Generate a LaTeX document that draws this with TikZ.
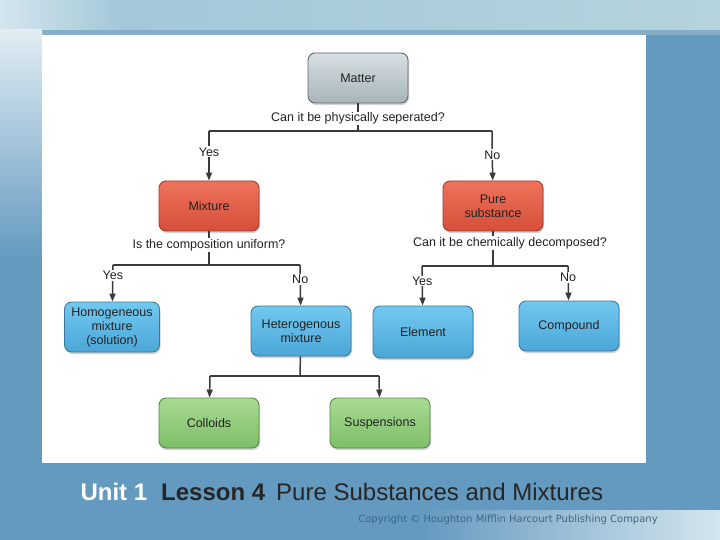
\documentclass[tikz,border=0pt]{standalone}
\usepackage{fontspec}
\setmainfont{Liberation Sans}
\newfontfamily\copyfont{DejaVu Sans}
\usepackage{tikz}
\usetikzlibrary{calc,positioning,arrows.meta,shadows}
\definecolor{SlideBlue}{HTML}{6499C0}
\definecolor{SlideLight}{HTML}{D4E6EE}
\definecolor{BandBlue}{HTML}{A3C8D8}
\definecolor{BandLight}{HTML}{B4D3DE}
\definecolor{BandEdge}{HTML}{86AEC6}
\definecolor{LineGrey}{HTML}{3A3A3A}
\definecolor{TextDark}{HTML}{222222}
\definecolor{GreyTop}{HTML}{D8E0E3}
\definecolor{GreyBot}{HTML}{A7B4B9}
\definecolor{GreyEdge}{HTML}{5E6668}
\definecolor{RedTop}{HTML}{EE735C}
\definecolor{RedBot}{HTML}{D64E39}
\definecolor{RedEdge}{HTML}{9E3B2B}
\definecolor{BlueTop}{HTML}{72C8EE}
\definecolor{BlueBot}{HTML}{4BA7D9}
\definecolor{BlueEdge}{HTML}{3A779C}
\definecolor{GreenTop}{HTML}{A9DB93}
\definecolor{GreenBot}{HTML}{7DBE68}
\definecolor{GreenEdge}{HTML}{56874A}
\definecolor{CopyGrey}{HTML}{3F6683}

\begin{document}
\begin{tikzpicture}[x=1pt,y=-1pt,font=\fontsize{12.5pt}{14pt}\selectfont,
      box/.style={draw,line width=0.9pt,rounded corners=2.5mm,minimum width=100pt,minimum height=50pt,align=center,inner sep=2pt,text=TextDark,
        drop shadow={shadow xshift=1pt,shadow yshift=-2pt,opacity=0.35}},
      greybox/.style={box,draw=GreyEdge,top color=GreyTop,bottom color=GreyBot},
      redbox/.style={box,draw=RedEdge,top color=RedTop,bottom color=RedBot},
      bluebox/.style={box,draw=BlueEdge,top color=BlueTop,bottom color=BlueBot},
      greenbox/.style={box,draw=GreenEdge,top color=GreenTop,bottom color=GreenBot},
      ask/.style={fill=white,inner sep=1pt,text=TextDark},
      lbl/.style={fill=white,inner sep=1pt,text=TextDark},
      ln/.style={line width=1.5pt,color=LineGrey},
      arr/.style={-{Triangle[length=8pt,width=6pt]},line width=1.5pt,color=LineGrey}]
      % slide background
      \fill[SlideBlue] (0,0) rectangle (720,540);
      \shade[left color=SlideLight,right color=BandBlue] (0,0) rectangle (120,30);
      \shade[left color=BandBlue,right color=BandLight] (120,0) rectangle (720,30);
      \fill[BandEdge] (0,30) rectangle (720,35);
      \shade[top color=SlideLight!70!white,bottom color=SlideBlue] (0,30) rectangle (42,260);
      \shade[left color=SlideBlue,right color=SlideLight] (420,510) rectangle (720,540);
      \fill[white] (42,35) rectangle (646,463);
      % boxes
      \node[greybox] (matter) at (358,78) {Matter};
      \node[redbox] (mixture) at (209,206) {Mixture};
      \node[redbox] (pure) at (493,206) {Pure\\substance};
      \node[bluebox,minimum width=95pt] (homo) at (112,327) {Homogeneous\\mixture\\(solution)};
      \node[bluebox] (hetero) at (301,331) {Heterogenous\\mixture};
      \node[bluebox,minimum height=52pt] (element) at (423,332) {Element};
      \node[bluebox] (compound) at (569,326) {Compound};
      \node[greenbox] (colloids) at (209,423) {Colloids};
      \node[greenbox] (susp) at (380,423) {Suspensions};
      % branch points
      \coordinate (j1) at (358,131);
      \coordinate (j1l) at (209,131);
      \coordinate (j1r) at (492,131);
      \coordinate (j2) at (209,265);
      \coordinate (j2l) at (113,265);
      \coordinate (j2r) at (300,265);
      \coordinate (j3) at (493,266);
      \coordinate (j3l) at (422,266);
      \coordinate (j3r) at (568,266);
      \coordinate (j4) at (300,376);
      \coordinate (j4l) at (210,376);
      \coordinate (j4r) at (379,376);
      % connectors
      \draw[ln] (matter) -- node[ask,pos=0.55] (q1) {Can it be physically seperated?} (j1);
      \draw[ln] (j1l) -- (j1r);
      \draw[arr] (j1l) -- node[lbl,pos=0.42] {Yes} (mixture);
      \draw[arr] (j1r) -- node[lbl,pos=0.48] {No} (pure);
      \draw[ln] (mixture) -- node[ask,pos=0.4] (q2) {Is the composition uniform?} (j2);
      \draw[ln] (j2l) -- (j2r);
      \draw[arr] (j2l) -- node[lbl,pos=0.28] {Yes} (homo);
      \draw[arr] (j2r) -- node[lbl,pos=0.35] {No} (hetero);
      \draw[ln] (pure) -- (j3);
      \node[ask] (q3) at (510,243) {Can it be chemically decomposed?};
      \draw[ln] (j3l) -- (j3r);
      \draw[arr] (j3l) -- node[lbl,pos=0.38] {Yes} (element);
      \draw[arr] (j3r) -- node[lbl,pos=0.33] {No} (compound);
      \draw[ln] (hetero) -- (j4);
      \draw[ln] (j4l) -- (j4r);
      \draw[arr] (j4l) -- (colloids);
      \draw[arr] (j4r) -- (susp);
      % footer
      \node[anchor=west,font=\fontsize{24pt}{27pt}\selectfont,text=black!85] (title) at (77,492)
        {\textcolor{white}{\textbf{Unit 1}}\hspace{14pt}\textbf{Lesson 4}\hspace{11pt}Pure Substances and Mixtures};
      \node[font=\copyfont\fontsize{10pt}{12pt}\selectfont,text=CopyGrey] (copy) at (508,520)
        {Copyright © Houghton Mifflin Harcourt Publishing Company};
    \end{tikzpicture}
\end{document}
